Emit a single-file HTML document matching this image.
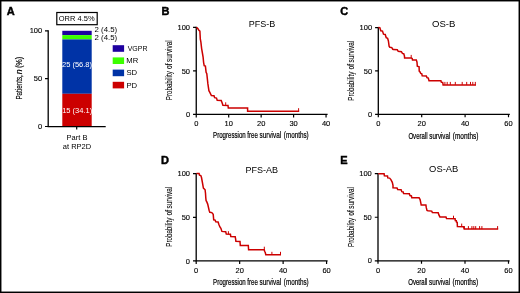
<!DOCTYPE html>
<html><head><meta charset="utf-8"><style>
html,body{margin:0;padding:0;background:#fff;width:520px;height:293px;overflow:hidden;font-family:"Liberation Sans",sans-serif;}
svg{display:block;will-change:transform;}
</style></head><body>
<svg width="520" height="293" viewBox="0 0 520 293" font-family="Liberation Sans, sans-serif">
<rect x="0" y="0" width="520" height="293" fill="#fff"/>
<rect x="0" y="0" width="520" height="1" fill="#000"/><rect x="0" y="1" width="520" height="1" fill="#000" opacity="0.45"/>
<rect x="0" y="0" width="1" height="293" fill="#000"/><rect x="1" y="0" width="1" height="293" fill="#000" opacity="0.45"/>
<rect x="519" y="0" width="1" height="293" fill="#000"/><rect x="518" y="0" width="1" height="293" fill="#000" opacity="0.45"/>
<rect x="0" y="292" width="520" height="1" fill="#000"/><rect x="0" y="291" width="520" height="1" fill="#000" opacity="0.45"/>
<text x="6.7" y="14.5" font-size="11" font-weight="bold" stroke="#000" stroke-width="0.45">A</text>
<rect x="56.8" y="12.5" width="40.4" height="12.2" fill="none" stroke="#000" stroke-width="1.2"/>
<text x="58.8" y="20.9" font-size="7.5" textLength="35.8" lengthAdjust="spacingAndGlyphs">ORR 4.5%</text>
<rect x="62.3" y="30.80" width="29.4" height="4.30" fill="#1e00a0"/>
<rect x="62.3" y="35.10" width="29.4" height="4.30" fill="#3cff00"/>
<rect x="62.3" y="39.40" width="29.4" height="54.40" fill="#0033a6"/>
<rect x="62.3" y="93.80" width="29.4" height="32.60" fill="#cc0000"/>
<text x="77" y="67.2" font-size="7.5" fill="#fff" text-anchor="middle">25 (56.8)</text>
<text x="77.2" y="112.6" font-size="7.5" fill="#fff" text-anchor="middle">15 (34.1)</text>
<text x="94.6" y="32.3" font-size="7.5" textLength="22.6" lengthAdjust="spacingAndGlyphs">2 (4.5)</text>
<text x="94.6" y="40.0" font-size="7.5" textLength="22.6" lengthAdjust="spacingAndGlyphs">2 (4.5)</text>
<path d="M48.2,30.2 L48.2,127.2 M48.2,126.6 L105.7,126.6 " stroke="#000" stroke-width="1.3" fill="none"/>
<path d="M45,30.8 L48.2,30.8 M45,78.6 L48.2,78.6 M45,126.5 L48.2,126.5 M76.7,126.6 L76.7,129.4" stroke="#000" stroke-width="1.2" fill="none"/>
<text x="42.2" y="33.3" font-size="7.5" text-anchor="end" stroke="#000" stroke-width="0.12">100</text>
<text x="42.2" y="81.1" font-size="7.5" text-anchor="end" stroke="#000" stroke-width="0.12">50</text>
<text x="42.2" y="128.7" font-size="7.5" text-anchor="end" stroke="#000" stroke-width="0.12">0</text>
<text x="77" y="139.7" font-size="7.5" text-anchor="middle">Part B</text>
<text x="77" y="148.9" font-size="7.5" text-anchor="middle">at RP2D</text>
<text transform="translate(22.3,99.6) rotate(-90)" x="0" y="0" font-size="9" stroke="#000" stroke-width="0.15" textLength="24.4" lengthAdjust="spacingAndGlyphs">Patients,</text>
<text transform="translate(22.3,74.3) rotate(-90)" x="0" y="0" font-size="9" stroke="#000" stroke-width="0.15" font-style="italic" textLength="4.9" lengthAdjust="spacingAndGlyphs">n</text>
<text transform="translate(22.3,68.1) rotate(-90)" x="0" y="0" font-size="9" stroke="#000" stroke-width="0.15" textLength="11.3" lengthAdjust="spacingAndGlyphs">(%)</text>
<rect x="112.7" y="45.20" width="11.4" height="6.6" fill="#1e00a0"/>
<rect x="112.7" y="57.40" width="11.4" height="6.6" fill="#3cff00"/>
<rect x="112.7" y="69.60" width="11.4" height="6.6" fill="#0033a6"/>
<rect x="112.7" y="81.80" width="11.4" height="6.6" fill="#cc0000"/>
<text x="127.7" y="50.7" font-size="7.7" textLength="19.8" lengthAdjust="spacingAndGlyphs">VGPR</text>
<text x="126.3" y="62.95" font-size="7.7">MR</text>
<text x="126.4" y="75.3" font-size="7.7">SD</text>
<text x="126.4" y="87.5" font-size="7.7">PD</text>
<text x="161.4" y="14.7" font-size="11" font-weight="bold" stroke="#000" stroke-width="0.45">B</text>
<text x="248.8" y="26.9" font-size="9">PFS-B</text>
<path d="M196.25,26.799999999999997 L196.25,115.0 M195.65,114.4 L327.6,114.4" stroke="#000" stroke-width="1.3" fill="none"/>
<path d="M193.05,27.4 L196.25,27.4 M193.05,70.9 L196.25,70.9 M193.05,114.4 L196.25,114.4 M196.25,114.4 L196.25,117.4 M228.7,114.4 L228.7,117.4 M261.15,114.4 L261.15,117.4 M293.6,114.4 L293.6,117.4 M326.05,114.4 L326.05,117.4 " stroke="#000" stroke-width="1.2" fill="none"/>
<text x="190.05" y="30.0" font-size="7.5" text-anchor="end" stroke="#000" stroke-width="0.12">100</text>
<text x="190.05" y="73.5" font-size="7.5" text-anchor="end" stroke="#000" stroke-width="0.12">50</text>
<text x="190.05" y="117.0" font-size="7.5" text-anchor="end" stroke="#000" stroke-width="0.12">0</text>
<text x="196.25" y="126.3" font-size="7.5" text-anchor="middle" stroke="#000" stroke-width="0.12">0</text>
<text x="228.7" y="126.3" font-size="7.5" text-anchor="middle" stroke="#000" stroke-width="0.12">10</text>
<text x="261.15" y="126.3" font-size="7.5" text-anchor="middle" stroke="#000" stroke-width="0.12">20</text>
<text x="293.6" y="126.3" font-size="7.5" text-anchor="middle" stroke="#000" stroke-width="0.12">30</text>
<text x="326.05" y="126.3" font-size="7.5" text-anchor="middle" stroke="#000" stroke-width="0.12">40</text>
<text x="213.1" y="138.4" font-size="9" stroke="#000" stroke-width="0.22" textLength="32.6" lengthAdjust="spacingAndGlyphs">Progression</text>
<text x="247.3" y="138.4" font-size="9" stroke="#000" stroke-width="0.22" textLength="10.6" lengthAdjust="spacingAndGlyphs">free</text>
<text x="259.5" y="138.4" font-size="9" stroke="#000" stroke-width="0.22" textLength="21.7" lengthAdjust="spacingAndGlyphs">survival</text>
<text x="283.8" y="138.4" font-size="9" stroke="#000" stroke-width="0.22" textLength="24.9" lengthAdjust="spacingAndGlyphs">(months)</text>
<text transform="translate(172.0,100.2) rotate(-90)" x="0" y="0" font-size="9" stroke="#000" stroke-width="0.1" textLength="29.0" lengthAdjust="spacingAndGlyphs">Probability</text>
<text transform="translate(172.0,68.9) rotate(-90)" x="0" y="0" font-size="9" stroke="#000" stroke-width="0.1" textLength="5.6" lengthAdjust="spacingAndGlyphs">of</text>
<text transform="translate(172.0,62.0) rotate(-90)" x="0" y="0" font-size="9" stroke="#000" stroke-width="0.1" textLength="21.7" lengthAdjust="spacingAndGlyphs">survival</text>
<path d="M196.5,27.4 L197.8,28.6 L198.9,30.2 L199.9,31.2 L200.1,35.0 L200.3,39.0 L200.9,42.1 L201.6,48.3 L202.4,53.0 L203.1,57.1 L203.6,62.3 L204.2,65.6 L205.4,66.1 L206.1,72.3 L206.8,73.7 L207.9,83.9 L208.9,90.7 L209.7,92.1 L211.4,95.5 L214.0,95.8 L214.6,97.7 L216.5,98.1 L217.2,100.2 L221.2,100.4 L222.1,102.8 L222.9,105.2 L228.0,105.5 L228.3,108.1 L247.6,108.1 L247.6,111.2 L299.2,111.2" stroke="#cc0000" stroke-width="1.5" fill="none" stroke-linejoin="miter"/>
<path d="M225.7,105.3 L225.7,102.3 M298.6,111.2 L298.6,108.2 " stroke="#cc0000" stroke-width="1.0" fill="none"/>
<text x="340.2" y="14.8" font-size="11" font-weight="bold" stroke="#000" stroke-width="0.45">C</text>
<text x="432.0" y="27.2" font-size="9" textLength="23.4" lengthAdjust="spacingAndGlyphs">OS-B</text>
<path d="M378.3,27.0 L378.3,114.89999999999999 M377.7,114.3 L509.8,114.3" stroke="#000" stroke-width="1.3" fill="none"/>
<path d="M375.1,27.6 L378.3,27.6 M375.1,70.95 L378.3,70.95 M375.1,114.3 L378.3,114.3 M378.3,114.3 L378.3,117.3 M421.7,114.3 L421.7,117.3 M465.1,114.3 L465.1,117.3 M508.5,114.3 L508.5,117.3 " stroke="#000" stroke-width="1.2" fill="none"/>
<text x="372.1" y="30.2" font-size="7.5" text-anchor="end" stroke="#000" stroke-width="0.12">100</text>
<text x="372.1" y="73.5" font-size="7.5" text-anchor="end" stroke="#000" stroke-width="0.12">50</text>
<text x="372.1" y="116.9" font-size="7.5" text-anchor="end" stroke="#000" stroke-width="0.12">0</text>
<text x="378.3" y="126.2" font-size="7.5" text-anchor="middle" stroke="#000" stroke-width="0.12">0</text>
<text x="421.7" y="126.2" font-size="7.5" text-anchor="middle" stroke="#000" stroke-width="0.12">20</text>
<text x="465.1" y="126.2" font-size="7.5" text-anchor="middle" stroke="#000" stroke-width="0.12">40</text>
<text x="508.5" y="126.2" font-size="7.5" text-anchor="middle" stroke="#000" stroke-width="0.12">60</text>
<text x="408.4" y="138.6" font-size="9" stroke="#000" stroke-width="0.22" textLength="19.2" lengthAdjust="spacingAndGlyphs">Overall</text>
<text x="429.3" y="138.6" font-size="9" stroke="#000" stroke-width="0.22" textLength="21.0" lengthAdjust="spacingAndGlyphs">survival</text>
<text x="452.8" y="138.6" font-size="9" stroke="#000" stroke-width="0.22" textLength="25.6" lengthAdjust="spacingAndGlyphs">(months)</text>
<text transform="translate(354.0,100.7) rotate(-90)" x="0" y="0" font-size="9" stroke="#000" stroke-width="0.1" textLength="29.0" lengthAdjust="spacingAndGlyphs">Probability</text>
<text transform="translate(354.0,69.4) rotate(-90)" x="0" y="0" font-size="9" stroke="#000" stroke-width="0.1" textLength="5.6" lengthAdjust="spacingAndGlyphs">of</text>
<text transform="translate(354.0,62.5) rotate(-90)" x="0" y="0" font-size="9" stroke="#000" stroke-width="0.1" textLength="21.7" lengthAdjust="spacingAndGlyphs">survival</text>
<path d="M378.3,27.5 L379.8,27.6 L380.8,30.8 L382.5,31.1 L383.5,34.2 L385.2,34.5 L386.2,37.6 L387.6,38.2 L388.4,41.0 L389.1,46.2 L389.8,47.2 L391.8,47.6 L392.8,49.3 L393.5,49.6 L397.3,49.7 L398.2,51.3 L401.4,51.7 L402.4,53.4 L403.7,53.7 L404.4,55.7 L404.6,57.9 L411.2,57.9 L412.2,58.5 L412.5,59.9 L416.3,59.9 L417.0,62.2 L417.3,66.3 L419.1,66.9 L419.2,71.1 L419.9,71.8 L420.8,73.5 L421.8,73.9 L422.2,75.8 L426.3,75.9 L427.0,77.6 L428.3,78.1 L429.0,80.7 L440.9,80.7 L441.3,82.2 L442.7,82.4 L443.1,84.9 L476.0,84.9" stroke="#cc0000" stroke-width="1.5" fill="none" stroke-linejoin="miter"/>
<path d="M411.2,57.9 L411.2,54.9 M444.9,84.9 L444.9,81.9 M447.2,84.9 L447.2,81.9 M450.3,84.9 L450.3,81.9 M455.3,84.9 L455.3,81.9 M462.2,84.9 L462.2,81.9 M466.7,84.9 L466.7,81.9 M470.5,84.9 L470.5,81.9 M472.8,84.9 L472.8,81.9 M475.3,84.9 L475.3,81.9 " stroke="#cc0000" stroke-width="1.0" fill="none"/>
<text x="161.1" y="164.3" font-size="11" font-weight="bold" stroke="#000" stroke-width="0.45">D</text>
<text x="245.5" y="173.0" font-size="9">PFS-AB</text>
<path d="M196.2,173.1 L196.2,261.5 M195.6,260.9 L327.6,260.9" stroke="#000" stroke-width="1.3" fill="none"/>
<path d="M193.0,173.7 L196.2,173.7 M193.0,217.29999999999998 L196.2,217.29999999999998 M193.0,260.9 L196.2,260.9 M196.2,260.9 L196.2,263.9 M239.66,260.9 L239.66,263.9 M283.12,260.9 L283.12,263.9 M326.58,260.9 L326.58,263.9 " stroke="#000" stroke-width="1.2" fill="none"/>
<text x="190.0" y="176.3" font-size="7.5" text-anchor="end" stroke="#000" stroke-width="0.12">100</text>
<text x="190.0" y="219.9" font-size="7.5" text-anchor="end" stroke="#000" stroke-width="0.12">50</text>
<text x="190.0" y="263.5" font-size="7.5" text-anchor="end" stroke="#000" stroke-width="0.12">0</text>
<text x="196.2" y="272.8" font-size="7.5" text-anchor="middle" stroke="#000" stroke-width="0.12">0</text>
<text x="239.66" y="272.8" font-size="7.5" text-anchor="middle" stroke="#000" stroke-width="0.12">20</text>
<text x="283.12" y="272.8" font-size="7.5" text-anchor="middle" stroke="#000" stroke-width="0.12">40</text>
<text x="326.58" y="272.8" font-size="7.5" text-anchor="middle" stroke="#000" stroke-width="0.12">60</text>
<text x="213.1" y="284.9" font-size="9" stroke="#000" stroke-width="0.22" textLength="32.6" lengthAdjust="spacingAndGlyphs">Progression</text>
<text x="247.3" y="284.9" font-size="9" stroke="#000" stroke-width="0.22" textLength="10.6" lengthAdjust="spacingAndGlyphs">free</text>
<text x="259.5" y="284.9" font-size="9" stroke="#000" stroke-width="0.22" textLength="21.7" lengthAdjust="spacingAndGlyphs">survival</text>
<text x="283.8" y="284.9" font-size="9" stroke="#000" stroke-width="0.22" textLength="24.9" lengthAdjust="spacingAndGlyphs">(months)</text>
<text transform="translate(172.0,246.7) rotate(-90)" x="0" y="0" font-size="9" stroke="#000" stroke-width="0.1" textLength="29.0" lengthAdjust="spacingAndGlyphs">Probability</text>
<text transform="translate(172.0,215.4) rotate(-90)" x="0" y="0" font-size="9" stroke="#000" stroke-width="0.1" textLength="5.6" lengthAdjust="spacingAndGlyphs">of</text>
<text transform="translate(172.0,208.5) rotate(-90)" x="0" y="0" font-size="9" stroke="#000" stroke-width="0.1" textLength="21.7" lengthAdjust="spacingAndGlyphs">survival</text>
<path d="M196.5,173.5 L199.1,173.5 L199.5,175.1 L200.8,175.5 L201.5,177.5 L202.5,183.0 L203.4,188.1 L205.1,189.8 L205.5,193.2 L205.8,198.0 L206.1,200.7 L206.7,201.7 L207.7,204.1 L209.1,210.2 L209.8,212.3 L211.8,212.6 L213.2,214.3 L213.7,219.8 L215.1,220.1 L215.8,221.8 L218.1,222.0 L218.8,224.2 L219.9,227.0 L220.9,228.3 L221.9,231.4 L225.7,231.7 L226.3,234.1 L230.4,234.3 L230.8,236.5 L235.2,236.7 L235.6,238.9 L235.9,241.3 L240.0,241.5 L240.3,245.5 L248.3,245.5 L248.6,249.7 L264.2,249.7 L264.6,251.3 L265.2,252.3 L265.8,254.8 L281.0,254.8" stroke="#cc0000" stroke-width="1.5" fill="none" stroke-linejoin="miter"/>
<path d="M228.4,234.2 L228.4,231.2 M264.3,249.7 L264.3,246.7 M271.9,254.8 L271.9,251.8 M280.5,254.8 L280.5,251.8 " stroke="#cc0000" stroke-width="1.0" fill="none"/>
<text x="340.2" y="163.9" font-size="11" font-weight="bold" stroke="#000" stroke-width="0.45">E</text>
<text x="429.1" y="172.4" font-size="9" textLength="29.2" lengthAdjust="spacingAndGlyphs">OS-AB</text>
<path d="M378.0,173.1 L378.0,261.40000000000003 M377.4,260.8 L509.6,260.8" stroke="#000" stroke-width="1.3" fill="none"/>
<path d="M374.8,173.7 L378.0,173.7 M374.8,217.25 L378.0,217.25 M374.8,260.8 L378.0,260.8 M378.0,260.8 L378.0,263.8 M421.5,260.8 L421.5,263.8 M465.0,260.8 L465.0,263.8 M508.5,260.8 L508.5,263.8 " stroke="#000" stroke-width="1.2" fill="none"/>
<text x="371.8" y="176.3" font-size="7.5" text-anchor="end" stroke="#000" stroke-width="0.12">100</text>
<text x="371.8" y="219.8" font-size="7.5" text-anchor="end" stroke="#000" stroke-width="0.12">50</text>
<text x="371.8" y="263.4" font-size="7.5" text-anchor="end" stroke="#000" stroke-width="0.12">0</text>
<text x="378.0" y="272.7" font-size="7.5" text-anchor="middle" stroke="#000" stroke-width="0.12">0</text>
<text x="421.5" y="272.7" font-size="7.5" text-anchor="middle" stroke="#000" stroke-width="0.12">20</text>
<text x="465.0" y="272.7" font-size="7.5" text-anchor="middle" stroke="#000" stroke-width="0.12">40</text>
<text x="508.5" y="272.7" font-size="7.5" text-anchor="middle" stroke="#000" stroke-width="0.12">60</text>
<text x="408.2" y="285.0" font-size="9" stroke="#000" stroke-width="0.22" textLength="19.2" lengthAdjust="spacingAndGlyphs">Overall</text>
<text x="429.1" y="285.0" font-size="9" stroke="#000" stroke-width="0.22" textLength="21.0" lengthAdjust="spacingAndGlyphs">survival</text>
<text x="452.6" y="285.0" font-size="9" stroke="#000" stroke-width="0.22" textLength="25.6" lengthAdjust="spacingAndGlyphs">(months)</text>
<text transform="translate(354.0,247.0) rotate(-90)" x="0" y="0" font-size="9" stroke="#000" stroke-width="0.1" textLength="29.0" lengthAdjust="spacingAndGlyphs">Probability</text>
<text transform="translate(354.0,215.7) rotate(-90)" x="0" y="0" font-size="9" stroke="#000" stroke-width="0.1" textLength="5.6" lengthAdjust="spacingAndGlyphs">of</text>
<text transform="translate(354.0,208.8) rotate(-90)" x="0" y="0" font-size="9" stroke="#000" stroke-width="0.1" textLength="21.7" lengthAdjust="spacingAndGlyphs">survival</text>
<path d="M378.3,173.8 L384.1,173.8 L384.4,175.8 L387.5,176.0 L387.8,177.9 L389.6,178.1 L390.9,179.6 L392.3,182.3 L393.0,185.4 L393.0,187.8 L397.0,187.9 L397.7,189.6 L401.1,189.8 L401.8,191.7 L403.2,192.0 L403.6,193.6 L409.3,193.7 L410.0,195.6 L411.4,195.9 L411.8,197.7 L419.1,197.8 L420.1,199.5 L420.8,202.9 L421.2,205.0 L425.9,205.1 L426.3,207.7 L427.0,210.4 L428.0,210.7 L431.7,211.1 L432.4,212.6 L438.2,212.8 L438.9,214.9 L439.9,216.9 L446.0,217.1 L446.5,218.6 L455.1,218.7 L455.3,220.6 L456.3,220.7 L456.5,222.2 L457.2,222.3 L457.4,226.5 L463.6,226.7 L464.2,229.1 L498.2,229.1" stroke="#cc0000" stroke-width="1.5" fill="none" stroke-linejoin="miter"/>
<path d="M453.5,218.7 L453.5,215.7 M461.7,226.6 L461.7,223.6 M464.4,229.1 L464.4,226.1 M468.4,229.1 L468.4,226.1 M471.9,229.1 L471.9,226.1 M473.8,229.1 L473.8,226.1 M475.7,229.1 L475.7,226.1 M479.6,229.1 L479.6,226.1 M481.9,229.1 L481.9,226.1 M497.6,229.1 L497.6,226.1 " stroke="#cc0000" stroke-width="1.0" fill="none"/>
</svg>
</body></html>
